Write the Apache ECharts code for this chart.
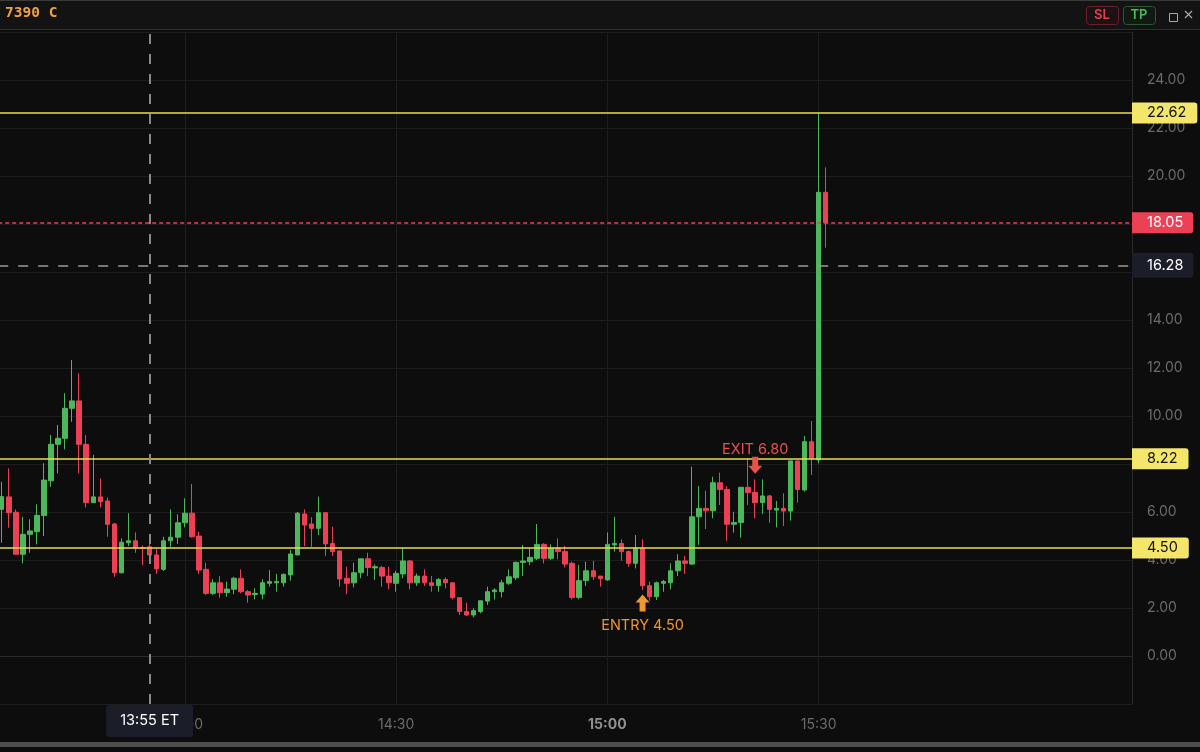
<!DOCTYPE html>
<html>
<head>
<meta charset="utf-8">
<script src="https://cdn.jsdelivr.net/npm/echarts@6/dist/echarts.min.js"></script>
<style>
html,body{margin:0;padding:0;background:#0d0d0d;}
#chart{width:1200px;height:752px;}
</style>
</head>
<body>
<div id="chart"></div>
<script>
// ---- categories: one per minute, 13:34 .. 16:14 ----
const firstMinute = 13 * 60 + 34;
const lastMinute = 16 * 60 + 14;
const times = [];
for (let m = firstMinute; m <= lastMinute; m++) {
  const h = Math.floor(m / 60), mm = m % 60;
  times.push(h + ':' + (mm < 10 ? '0' : '') + mm);
}
const tickLabels = ['14:00', '14:30', '15:00', '15:30'];

// ---- 1-minute candles, 13:34 .. 15:31 ----
const opens = [
  6.11,6.63,5.99,4.24,5.07,5.18,5.85,7.30,8.82,9.07,
  10.32,10.63,8.82,6.39,6.63,6.46,5.50,3.47,4.72,4.80,
  4.52,4.55,4.21,3.61,4.80,4.95,5.55,5.95,5.00,3.61,
  2.61,3.05,2.64,2.78,3.24,2.68,2.56,2.58,3.03,3.05,
  3.05,3.38,4.21,5.92,5.50,5.32,5.97,4.69,4.38,3.24,
  3.05,3.47,4.05,3.67,3.69,3.33,3.03,3.42,3.96,3.05,
  3.33,3.05,2.94,3.19,3.05,2.43,1.85,1.71,1.85,2.29,
  2.68,2.68,3.03,3.26,3.90,3.93,4.07,4.65,4.07,4.49,
  4.35,3.86,2.44,3.14,3.55,3.33,3.17,4.63,4.69,4.35,
  3.86,4.49,2.93,2.47,3.03,3.05,3.55,3.96,3.83,5.80,
  6.15,6.05,7.22,6.94,5.49,5.56,7.03,6.82,6.39,6.67,
  6.08,6.15,6.04,8.13,6.92,8.93,8.17,19.32
];
const closes = [
  6.64,5.97,4.24,5.07,5.21,5.86,7.33,8.82,9.07,10.32,
  10.63,8.82,6.39,6.63,6.43,5.49,3.47,4.74,4.80,4.50,
  4.48,4.21,3.63,4.80,4.95,5.55,5.95,4.97,3.58,2.61,
  3.05,2.64,2.79,3.24,2.68,2.54,2.61,3.05,3.10,3.10,
  3.40,4.25,5.95,5.46,5.32,5.97,4.67,4.35,3.21,3.03,
  3.47,4.05,3.69,3.72,3.33,3.05,3.44,3.96,3.05,3.33,
  3.05,2.94,3.19,3.05,2.43,1.85,1.71,1.89,2.30,2.68,
  2.75,3.05,3.30,3.90,3.96,4.11,4.65,4.07,4.49,4.35,
  3.83,2.44,3.14,3.55,3.30,3.22,4.65,4.69,4.35,3.86,
  4.49,2.93,2.47,3.05,3.10,3.55,3.96,3.86,5.80,6.15,
  6.05,7.22,6.94,5.49,5.56,7.03,6.81,6.39,6.67,6.11,
  6.15,6.04,8.13,6.94,8.93,8.24,19.32,18.05
];
const lows = [
  4.72,5.35,4.24,3.86,4.30,4.65,5.00,7.05,7.61,8.61,
  9.76,7.61,6.19,6.39,6.19,4.97,3.30,3.44,4.58,4.30,
  3.79,4.03,3.42,3.54,4.55,4.67,5.36,4.93,3.42,2.54,
  2.54,2.43,2.47,2.58,2.61,2.22,2.36,2.36,2.89,2.68,
  2.89,3.14,4.21,4.58,4.55,5.04,4.17,4.17,2.89,2.58,
  2.86,3.24,3.33,3.17,2.89,2.78,2.68,3.24,2.78,2.92,
  2.92,2.68,2.68,2.82,2.36,1.71,1.67,1.61,1.78,2.13,
  2.36,2.44,2.96,3.17,3.33,3.79,4.00,3.86,4.00,4.03,
  3.69,2.36,2.36,2.92,3.17,2.89,3.14,4.35,3.97,3.72,
  3.65,2.75,2.30,2.33,2.68,2.78,3.33,3.42,3.79,4.63,
  5.29,5.74,6.29,4.80,5.14,4.93,6.29,5.74,5.92,5.55,
  5.36,5.42,5.64,6.39,6.85,7.54,8.03,17.01
];
const highs = [
  7.26,7.82,6.11,5.80,5.70,6.32,8.03,9.21,9.63,10.95,
  12.33,11.78,9.21,8.38,7.40,6.61,5.55,4.90,5.95,5.15,
  4.61,4.76,4.45,4.97,6.11,5.90,6.57,7.17,5.18,3.89,
  3.20,3.33,3.10,3.30,3.61,2.75,2.82,3.20,3.58,3.42,
  3.44,4.42,6.00,6.11,5.78,6.64,5.97,5.39,4.38,3.72,
  3.89,4.05,4.30,3.82,3.75,3.72,3.55,4.49,4.00,3.44,
  3.61,3.33,3.25,3.28,3.05,2.43,2.22,1.99,2.30,2.89,
  2.82,3.17,3.61,3.94,4.63,4.49,5.50,4.70,4.65,4.90,
  4.58,3.93,3.79,3.93,3.96,3.33,5.15,5.80,4.86,4.39,
  5.04,4.86,3.10,3.10,3.17,3.86,4.24,4.17,7.89,7.08,
  6.89,7.47,7.64,7.08,6.01,7.03,8.24,7.36,7.36,6.71,
  6.46,6.78,8.13,8.13,9.17,9.79,22.62,20.36
];

// ---- levels & annotations ----
const levelValues = [22.62, 8.22, 4.50];
const lastPrice = 18.05;
const crossPrice = 16.28;
const crossTime = '13:55';
const entryTime = '15:05', entryPrice = 4.50;
const exitTime = '15:21', exitPrice = 6.80;

const GREEN = '#4db85b', RED = '#ec4155', YELLOW_LINE = '#e9de4f', YELLOW_TAG = '#f4e56b';
const FONT = 'Inter, "Noto Sans", sans-serif';

const candleData = opens.map((o, i) => [o, closes[i], lows[i], highs[i]]);
const entryIdx = times.indexOf(entryTime);
const exitIdx = times.indexOf(exitTime);

const tagLabel = (bg, fg, pad) => ({
  show: true, position: 'end', distance: 0,
  formatter: p => Number(p.value).toFixed(2),
  backgroundColor: bg, color: fg, padding: pad,
  fontSize: 14.5, fontFamily: FONT, lineHeight: 15,
  borderRadius: [0, 3, 3, 0]
});

const chart = echarts.init(document.getElementById('chart'), null, {renderer: 'canvas'});
chart.setOption({
  backgroundColor: '#0d0d0d',
  animation: false,
  grid: {left: -1.8, right: 68, top: 32, bottom: 48, outerBoundsMode: 'none', containLabel: false},
  xAxis: {
    type: 'category', data: times, boundaryGap: true,
    axisLine: {show: true, lineStyle: {color: '#2a2a2a', width: 1}},
    axisTick: {show: false},
    splitLine: {show: false},
    axisLabel: {
      interval: (i, v) => tickLabels.indexOf(v) >= 0,
      formatter: v => v === '15:00' ? '{b|' + v + '}' : v,
      color: '#6b6b6b', fontSize: 14, fontFamily: FONT, margin: 14,
      rich: {b: {fontWeight: 'bold', color: '#909090', fontSize: 14, fontFamily: FONT}}
    }
  },
  yAxis: {
    type: 'value', position: 'right', min: -2, max: 26, interval: 2,
    axisLine: {show: true, lineStyle: {color: '#2a2a2a'}},
    axisTick: {show: false},
    splitLine: {show: true, lineStyle: {color: '#1d1d1d', width: 1}},
    axisLabel: {
      formatter: v => (v < 0 || v > 24) ? '' : v.toFixed(2),
      color: '#6b6b6b', fontSize: 14, fontFamily: FONT, margin: 15
    }
  },
  series: [
    {
      type: 'line', data: [], clip: false, silent: true,
      markLine: {
        z: 1, silent: true, symbol: ['none', 'none'],
        label: {show: false},
        lineStyle: {color: '#1d1d1d', width: 1, type: 'solid'},
        data: tickLabels.map(t => ({xAxis: t}))
      }
    },
    {
      type: 'candlestick', data: candleData, clip: false,
      barWidth: 5,
      itemStyle: {color: GREEN, color0: RED, borderColor: GREEN, borderColor0: RED, borderWidth: 1},
      markLine: {
        z: 5, silent: true, symbol: ['none', 'none'],
        data: [
          ...levelValues.map(v => ({
            yAxis: v,
            lineStyle: {color: YELLOW_LINE, width: 1.5, type: 'solid'},
            label: tagLabel(YELLOW_TAG, '#111111', [3, 11, 3, 15])
          })),
          {
            yAxis: lastPrice,
            lineStyle: {color: RED, width: 1.5, type: [4, 3]},
            label: tagLabel(RED, '#ffffff', [3, 10, 3, 15])
          },
          {
            yAxis: crossPrice,
            lineStyle: {color: '#9a9a9a', width: 1.5, type: [10, 10]},
            label: tagLabel('#1b1e28', '#ffffff', [5, 10, 5, 15])
          },
          {
            xAxis: crossTime,
            lineStyle: {color: '#8a8a8a', width: 2, type: [10, 10]},
            label: {
              show: true, position: 'start', distance: 1,
              formatter: crossTime + ' ET',
              backgroundColor: '#1b1e28', color: '#ffffff',
              padding: [8, 14, 8, 14], fontSize: 14.5, fontFamily: FONT, lineHeight: 16,
              borderRadius: 3
            }
          }
        ]
      },
      markPoint: {
        z: 6, silent: true,
        data: [
          {
            coord: [entryTime, lows[entryIdx]],
            symbol: 'path://M7,0 L14,8 L10,8 L10,17 L4,17 L4,8 L0,8 Z',
            symbolSize: [14, 17], symbolOffset: [0, 13],
            itemStyle: {color: '#f0962e'},
            label: {
              show: true, position: 'bottom', distance: 7,
              formatter: 'ENTRY ' + entryPrice.toFixed(2),
              color: '#f0962e', fontSize: 14.5, fontFamily: FONT
            }
          },
          {
            coord: [exitTime, highs[exitIdx]],
            symbol: 'path://M4,0 L10,0 L10,9 L14,9 L7,17 L0,9 L4,9 Z',
            symbolSize: [14, 17], symbolOffset: [0, -14],
            itemStyle: {color: '#e8524a'},
            label: {
              show: true, position: 'top', distance: 0,
              formatter: 'EXIT ' + exitPrice.toFixed(2),
              color: '#e8524a', fontSize: 14.5, fontFamily: FONT
            }
          }
        ]
      }
    }
  ],
  graphic: [
    {type: 'rect', left: 0, top: 0, z: 100, shape: {width: 1200, height: 30}, style: {fill: '#131313'}},
    {type: 'rect', left: 0, top: 0, z: 101, shape: {width: 1200, height: 1}, style: {fill: '#3a3a3a'}},
    {type: 'rect', left: 0, top: 29, z: 101, shape: {width: 1200, height: 1}, style: {fill: '#2e2e2e'}},
    {type: 'text', left: 5, top: 6, z: 102, style: {text: '7390 C', fill: '#f2a043', font: 'bold 14.5px "DejaVu Sans Mono", monospace'}},
    {type: 'rect', left: 1086, top: 6, z: 102, shape: {width: 32, height: 18, r: 3}, style: {fill: '#1a1214', stroke: '#6e1f27', lineWidth: 1}},
    {type: 'text', x: 1102, y: 15, z: 103, style: {text: 'SL', fill: '#e8404f', font: '600 13px ' + FONT, textAlign: 'center', textVerticalAlign: 'middle'}},
    {type: 'rect', left: 1123, top: 6, z: 102, shape: {width: 32, height: 18, r: 3}, style: {fill: '#101a12', stroke: '#2a5a30', lineWidth: 1}},
    {type: 'text', x: 1139, y: 15, z: 103, style: {text: 'TP', fill: '#4db85b', font: '600 13px ' + FONT, textAlign: 'center', textVerticalAlign: 'middle'}},
    {type: 'rect', left: 1167, top: 11, z: 102, shape: {width: 8, height: 8}, style: {fill: 'none', stroke: '#a8a8a8', lineWidth: 1}},
    {type: 'line', z: 102, shape: {x1: 1185, y1: 11, x2: 1192, y2: 18}, style: {stroke: '#a8a8a8', lineWidth: 1.3}},
    {type: 'line', z: 102, shape: {x1: 1192, y1: 11, x2: 1185, y2: 18}, style: {stroke: '#a8a8a8', lineWidth: 1.3}},
    {type: 'rect', left: 0, top: 742, z: 100, shape: {width: 1200, height: 5}, style: {fill: '#4e4e4e'}}
  ]
});
</script>
</body>
</html>
